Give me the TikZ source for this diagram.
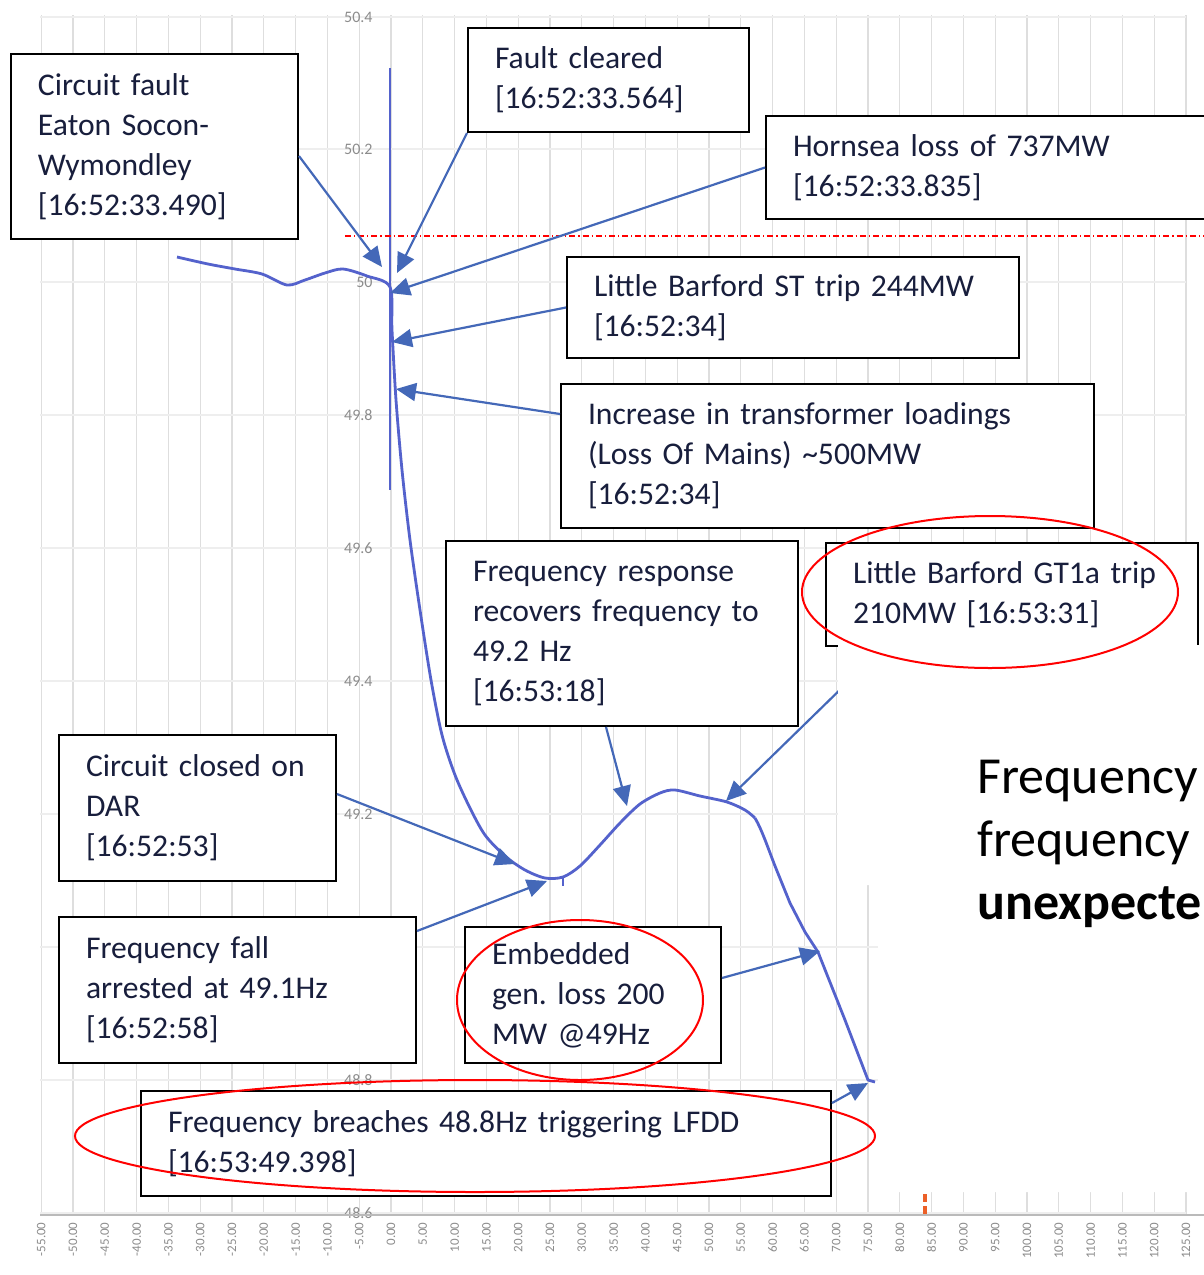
\documentclass[tikz,border=0pt]{standalone}
\usepackage{fontspec}
\setmainfont{Carlito}
\usetikzlibrary{arrows.meta}
\definecolor{tracecol}{RGB}{84,98,204}
\definecolor{pointcol}{RGB}{68,104,184}
\definecolor{inkcol}{RGB}{24,30,60}
\definecolor{gridcol}{RGB}{222,222,222}
\definecolor{hgridcol}{RGB}{238,238,238}
\definecolor{labelcol}{RGB}{140,140,140}
\definecolor{markcol}{RGB}{236,96,40}
\frenchspacing

\begin{document}
\begin{tikzpicture}[x=0.5pt,y=-0.5pt]
\tikzstyle{note}=[draw=black,line width=1pt,fill=white,anchor=north west,align=left,inner xsep=13.5pt,inner ysep=0pt,text=inkcol,font=\fontsize{15.8}{20}\selectfont]
\tikzstyle{pointer}=[draw=pointcol,line width=1.1pt,-{Triangle[length=10pt,width=9pt]}]
\tikzstyle{ring}=[draw=red,line width=1pt]
\tikzstyle{gridline}=[draw=gridcol,line width=0.6pt]
\tikzstyle{xlabel}=[rotate=90,anchor=east,inner sep=0pt,text=labelcol,font=\fontsize{6.5}{7}\selectfont]
\tikzstyle{ylabel}=[anchor=east,inner sep=0pt,text=labelcol,font=\fontsize{8}{9}\selectfont]
\useasboundingbox (0,0) rectangle (1204,1275);
\fill[white] (0,0) rectangle (1204,1275);

% chart grid and axis labels
\foreach \t [count=\i] in {-55,-50,...,125}{
  \draw[gridline] ({391+6.36*\t},15) -- ({391+6.36*\t},1215);
  \node[xlabel] (xt\i) at ({391+6.36*\t},1222) {\t.00};
}
\foreach \f/\y [count=\j] in {50.4/17,50.2/149,50/282,49.8/415,49.6/548,49.4/681,49.2/814,49/947,48.8/1080,48.6/1213}{
  \draw[hgridcol,line width=0.6pt] (40,\y) -- (1186,\y);
  \node[ylabel] (yt\j) at (373,\y) {\f};
}
\draw[labelcol!60,line width=0.6pt] (40,1215) -- (1204,1215);

% frequency trace
\draw[tracecol,line width=1pt] (390,68) -- (390,490);
\draw[tracecol,line width=1.4pt] plot[smooth,tension=0.5] coordinates {(177,257) (208,264) (235,269) (262,274) (287,285) (305,280) (325,273) (343,269) (367,276) (390,287) (392,330) (396,400) (402,470) (410,540) (420,610) (431,680) (442,735) (455,775) (470,808) (485,835) (505,856) (525,870) (545,878) (563,877) (580,866) (600,845) (620,823) (640,804) (660,793) (675,790) (700,796) (727,802) (745,810) (755,818)};
\draw[tracecol,line width=1.4pt,line join=round] (755,818) .. controls (762,830) and (768,848) .. (775,866) -- (790,903) -- (805,932) -- (818,952) -- (845,1020) -- (868,1080) -- (875,1082);
\draw[tracecol,line width=1pt] (563,877) -- (563,886);
\draw[red,line width=0.7pt,dash pattern=on 3pt off 1.5pt on 0.6pt off 1.5pt] (345,236) -- (1204,236);

% points on the trace
\coordinate (tipFault) at (382,267);
\coordinate (tipCleared) at (397,273);
\coordinate (tipHornsea) at (390,293);
\coordinate (tipST) at (392,342);
\coordinate (tipLoading) at (396,389);
\coordinate (tipResponse) at (627,806);
\coordinate (tipGT) at (726,801);
\coordinate (tipClosed) at (515,864);
\coordinate (tipArrested) at (547,881);
\coordinate (tipEmbedded) at (820,951);
\coordinate (tipLFDD) at (868,1083);

% event boxes
\node[note,text width=116.5pt,minimum height=92.5pt] (fault) at (10,53) {Circuit fault\\Eaton Socon-\\Wymondley\\{}[16:52:33.490]};
\node[note,text width=113.5pt,minimum height=52pt] (cleared) at (467,27) {Fault cleared\\{}[16:52:33.564]};
\node[note,text width=203pt,minimum height=51.5pt] (hornsea) at (765,115) {Hornsea loss of 737MW\\{}[16:52:33.835]};
\node[note,text width=199pt,minimum height=50.5pt] (stTrip) at (566,256) {Little Barford ST trip 244MW\\{}[16:52:34]};
\node[note,text width=239.5pt,minimum height=72pt] (loading) at (560,383) {Increase in transformer loadings\\(Loss Of Mains) \textasciitilde500MW\\{}[16:52:34]};
\node[note,text width=149pt,minimum height=92.5pt] (response) at (445,540) {Frequency response\\recovers frequency to\\49.2 Hz\\{}[16:53:18]};
\node[note,text width=159pt,minimum height=51.5pt] (gtTrip) at (825,542) {Little Barford GT1a trip\\210MW [16:53:31]};
\node[note,text width=111.5pt,minimum height=73pt] (closed) at (58,734) {Circuit closed on\\DAR\\{}[16:52:53]};
\node[note,text width=151.5pt,minimum height=73pt] (arrested) at (58,916) {Frequency fall\\arrested at 49.1Hz\\{}[16:52:58]};
\node[note,text width=101pt,minimum height=68pt] (embedded) at (464,926) {Embedded\\gen. loss 200\\MW @49Hz};
\node[note,text width=318pt,minimum height=52.5pt] (lfdd) at (140,1090) {Frequency breaches 48.8Hz triggering LFDD\\{}[16:53:49.398]};

% connectors
\draw[pointer] ([yshift=-4.75pt]fault.east) -- (tipFault);
\draw[pointer] (cleared.south west) -- (tipCleared);
\draw[pointer] (hornsea.west) -- (tipHornsea);
\draw[pointer] (stTrip.west) -- (tipST);
\draw[pointer] ([yshift=21pt]loading.west) -- (tipLoading);
\draw[pointer] ([xshift=-8pt]response.south) -- (tipResponse);
\draw[pointer] ([xshift=12.5pt,yshift=-16.5pt]gtTrip.south west) -- (tipGT);
\draw[pointer] ([yshift=7pt]closed.east) -- (tipClosed);
\draw[pointer] ([yshift=29.5pt]arrested.east) -- (tipArrested);
\draw[pointer] ([yshift=8.5pt]embedded.east) -- (tipEmbedded);
\draw[pointer] ([yshift=-6.5pt]lfdd.north east) -- (tipLFDD);

% slide panel over the chart
\fill[white] (838,645) -- (1204,645) -- (1204,1192) -- (878,1192) -- (878,885) -- (838,885) -- cycle;
\draw[markcol,line width=2pt,dash pattern=on 4pt off 2pt] (925,1194) -- (925,1214);
\node[anchor=north west,inner sep=0pt,align=left,font=\fontsize{26}{31.5}\selectfont] (slideText) at (977,760) {Frequency\\frequency\\\textbf{unexpecte}};

% highlights
\draw[ring] (990,592) ellipse [x radius=188,y radius=76];
\draw[ring] (580,1000) ellipse [x radius=123,y radius=80];
\draw[ring] (475,1136) ellipse [x radius=400,y radius=56];
\end{tikzpicture}
\end{document}
